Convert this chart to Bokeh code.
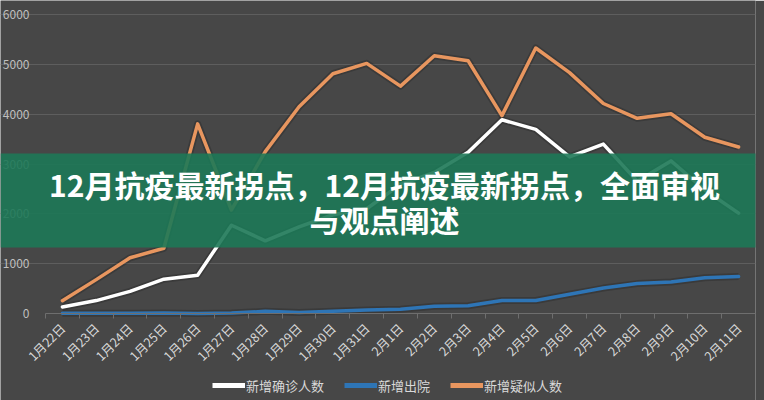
import math
from bokeh.plotting import figure
from bokeh.models import (FixedTicker, BoxAnnotation, Label, Range1d, Legend, LegendItem)
from bokeh.embed import file_html
from bokeh.resources import INLINE

dates = ["1月22日", "1月23日", "1月24日", "1月25日", "1月26日", "1月27日", "1月28日",
         "1月29日", "1月30日", "1月31日", "2月1日", "2月2日", "2月3日", "2月4日",
         "2月5日", "2月6日", "2月7日", "2月8日", "2月9日", "2月10日", "2月11日"]
confirmed = [131, 259, 444, 688, 769, 1771, 1459, 1737, 1982, 2102, 2590, 2829, 3235,
             3887, 3694, 3143, 3399, 2656, 3062, 2478, 2015]
discharged = [5, 6, 4, 11, 2, 9, 43, 21, 47, 72, 85, 147, 157, 262, 261, 387, 510,
              600, 632, 716, 744]
suspected = [257, 680, 1118, 1309, 3806, 2077, 3248, 4148, 4812, 5019, 4562, 5173,
             5072, 3971, 5328, 4833, 4214, 3916, 4008, 3536, 3342]
y_ticks = [0, 1000, 2000, 3000, 4000, 5000, 6000]
series_names = ["新增确诊人数", "新增出院", "新增疑似人数"]
title_lines = ["12月抗疫最新拐点，12月抗疫最新拐点，全面审视", "与观点阐述"]

BG = "#474747"
FONT = "Noto Sans CJK SC"
W, H = 764, 400
TOP, ZERO_Y = 14, 313          # canvas rows of the 6000 and 0 gridlines
LEFT, RIGHT = 45, 755          # canvas columns of the plotting area
n = len(dates)
y_max = y_ticks[-1]
# the frame fills the canvas; axes are pinned inside it so nothing gets clipped
px_per_unit_y = (ZERO_Y - TOP) / y_max
y_min = -(H - ZERO_Y) / px_per_unit_y
y_top = y_max + TOP / px_per_unit_y
unit = (RIGHT - LEFT) / n
x_start = -0.5 - LEFT / unit
x_end = n - 0.5

xs = list(range(n))

p = figure(width=W, height=H, output_backend="svg", toolbar_location=None,
           x_range=Range1d(x_start, x_end), y_range=Range1d(y_min, y_top),
           min_border_left=0, min_border_right=W - RIGHT, min_border_top=0, min_border_bottom=0)
p.background_fill_color = BG
p.border_fill_color = BG
p.outline_line_color = None

# axes
p.yaxis.fixed_location = -0.5
p.yaxis.bounds = (0, y_max)
p.yaxis.ticker = FixedTicker(ticks=y_ticks)
p.yaxis.axis_line_color = None
p.yaxis.major_tick_line_color = None
p.yaxis.minor_tick_line_color = None
p.yaxis.major_label_text_color = "#bfbfbf"
p.yaxis.major_label_text_font = FONT
p.yaxis.major_label_text_font_size = "12px"
p.yaxis.major_label_standoff = 10

p.xaxis.fixed_location = 0
p.xaxis.bounds = (-0.5, n - 0.5)
p.xaxis.ticker = FixedTicker(ticks=xs, minor_ticks=[i - 0.5 for i in range(n + 1)])
p.xaxis.major_label_overrides = {i: d for i, d in enumerate(dates)}
p.xaxis.major_label_orientation = math.pi / 4
p.xaxis.axis_line_color = "#6e6e6e"
p.xaxis.major_tick_line_color = None
p.xaxis.minor_tick_line_color = "#6e6e6e"
p.xaxis.minor_tick_in = 0
p.xaxis.minor_tick_out = 5
p.xaxis.major_label_text_color = "#d9d9d9"
p.xaxis.major_label_text_font = FONT
p.xaxis.major_label_text_font_size = "12.5px"
p.xaxis.major_label_standoff = 6

p.xgrid.grid_line_color = None
p.ygrid.ticker = FixedTicker(ticks=y_ticks[1:])
p.ygrid.bounds = (-0.5, n - 0.5)
p.ygrid.grid_line_color = "#5e5e5e"
p.ygrid.grid_line_width = 1

colors = ["#ffffff", "#2e75b6", "#e8965f"]
data = [confirmed, discharged, suspected]
for ys, c in zip(data, colors):
    p.line(xs, ys, line_color="#000000", line_alpha=0.18, line_width=7, line_join="round")
for ys, c in zip(data, colors):
    p.line(xs, ys, line_color=c, line_width=3.5, line_join="round", line_cap="round")

# legend (proxy lines give thicker swatches)
proxies = [p.line([0], [0], line_color=c, line_width=5, visible=False) for c in colors]
legend = Legend(items=[LegendItem(label=s, renderers=[pr]) for s, pr in zip(series_names, proxies)],
                orientation="horizontal", location=(212, 5),
                background_fill_alpha=0, border_line_alpha=0,
                label_text_color="#d9d9d9", label_text_font=FONT, label_text_font_size="13px",
                glyph_width=33, glyph_height=14, label_height=20, label_standoff=1, spacing=20,
                padding=0, margin=0)
p.add_layout(legend, "center")

# banner
banner = BoxAnnotation(left=0, right=W, top=153, bottom=247,
                       left_units="canvas", right_units="canvas",
                       top_units="canvas", bottom_units="canvas",
                       fill_color="#1d7856", fill_alpha=0.9, line_color=None, level="overlay")
p.add_layout(banner)

for txt, yy in zip(title_lines, [183, 218]):
    p.add_layout(Label(x=384, y=yy, x_units="canvas", y_units="canvas", text=txt,
                       text_align="center", text_baseline="middle", text_color="#ffffff",
                       text_font=FONT, text_font_style="bold", text_font_size="30px",
                       level="overlay"))

open("out.html", "w").write(file_html(p, INLINE))
